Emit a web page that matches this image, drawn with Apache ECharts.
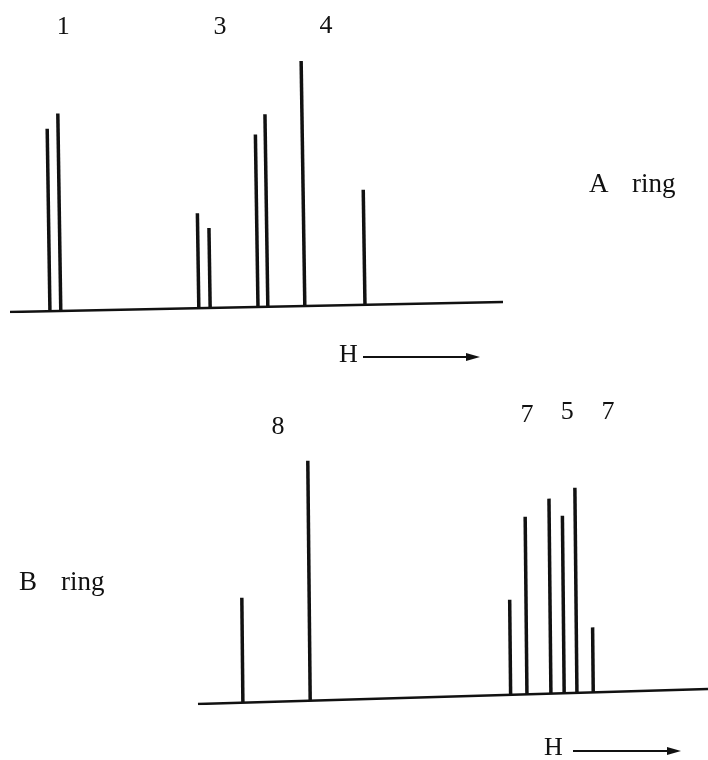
<!DOCTYPE html>
<html>
<head>
<meta charset="utf-8">
<script src="https://cdn.jsdelivr.net/npm/echarts@6/dist/echarts.min.js"></script>
<style>
  html, body { margin: 0; padding: 0; background: #fff; }
  #chart { width: 708px; height: 760px; }
</style>
</head>
<body>
<div id="chart"></div>
<script>
// A ring: stick positions (arbitrary shift units) and intensities
var ringAPos = [8.1, 10.3, 38.3, 40.6, 50.3, 52.3, 59.8, 72.0]
var ringAInt = [73, 79, 38, 32, 69, 77, 98, 46]
var ringALabels = ['1', '3', '4']
var ringALabelPos = [10.8, 42.6, 64.1]
var ringALabelY = [114, 114, 114.5]
// baseline of the scan is a little tilted: height at left and right end
var ringABase = [0, 4]

// B ring
var ringBPos = [8.8, 22.0, 61.3, 64.5, 69.2, 71.8, 74.3, 77.5]
var ringBInt = [42, 96, 38, 71, 78, 71, 82, 26]
var ringBLabels = ['8', '7', '5', '7']
var ringBLabelPos = [15.7, 64.5, 72.4, 80.4]
var ringBLabelY = [110.8, 115.6, 116.8, 116.8]
var ringBBase = [0, 6]

var serif = '"Liberation Serif", "DejaVu Serif", serif'
var ink = '#111'

function baseAt(base, x) {
  return base[0] + (base[1] - base[0]) * x / 100
}

// lean = how far the stick top drifts left per pixel of height (scan skew)
function stickRender(base, lean) {
  return function (params, api) {
    var x = api.value(0)
    var h = api.value(1)
    var p0 = api.coord([x, baseAt(base, x)])
    var hpx = api.size([0, h])[1]
    return {
      type: 'line',
      shape: { x1: p0[0], y1: p0[1], x2: p0[0] - hpx * lean, y2: p0[1] - hpx },
      style: { stroke: ink, lineWidth: 3.5 }
    }
  }
}

function textRender() {
  return function (params, api) {
    var p = api.coord([api.value(0), api.value(1)])
    return {
      type: 'text',
      x: p[0], y: p[1],
      style: {
        text: api.value(2),
        font: '26px ' + serif,
        fill: ink,
        align: 'center',
        verticalAlign: 'middle'
      }
    }
  }
}

function zip(a, b) {
  return a.map(function (v, i) { return [v, b[i]] })
}

var chart = echarts.init(document.getElementById('chart'))

chart.setOption({
  animation: false,
  backgroundColor: '#fff',
  grid: [
    { left: 10, width: 493, bottom: 448, height: 300 },
    { left: 198, width: 510, bottom: 56, height: 300 }
  ],
  xAxis: [
    { gridIndex: 0, type: 'value', min: 0, max: 100, show: false },
    { gridIndex: 1, type: 'value', min: 0, max: 100, show: false }
  ],
  yAxis: [
    { gridIndex: 0, type: 'value', min: 0, max: 120, show: false },
    { gridIndex: 1, type: 'value', min: 0, max: 120, show: false }
  ],
  series: [
    {
      type: 'line', xAxisIndex: 0, yAxisIndex: 0, symbol: 'none',
      lineStyle: { color: ink, width: 2.5 },
      data: [[0, ringABase[0]], [100, ringABase[1]]]
    },
    {
      type: 'custom', xAxisIndex: 0, yAxisIndex: 0,
      renderItem: stickRender(ringABase, 0.015),
      data: zip(ringAPos, ringAInt)
    },
    {
      type: 'custom', xAxisIndex: 0, yAxisIndex: 0,
      renderItem: textRender(),
      data: ringALabels.map(function (t, i) { return [ringALabelPos[i], ringALabelY[i], t] })
    },
    {
      type: 'line', xAxisIndex: 1, yAxisIndex: 1, symbol: 'none',
      lineStyle: { color: ink, width: 2.5 },
      data: [[0, ringBBase[0]], [100, ringBBase[1]]]
    },
    {
      type: 'custom', xAxisIndex: 1, yAxisIndex: 1,
      renderItem: stickRender(ringBBase, 0.01),
      data: zip(ringBPos, ringBInt)
    },
    {
      type: 'custom', xAxisIndex: 1, yAxisIndex: 1,
      renderItem: textRender(),
      data: ringBLabels.map(function (t, i) { return [ringBLabelPos[i], ringBLabelY[i], t] })
    }
  ],
  graphic: [
    { type: 'text', left: 589, top: 171, style: { text: 'A', font: '27px ' + serif, fill: ink } },
    { type: 'text', left: 632, top: 171, style: { text: 'ring', font: '27px ' + serif, fill: ink } },
    { type: 'text', left: 19, top: 569, style: { text: 'B', font: '27px ' + serif, fill: ink } },
    { type: 'text', left: 61, top: 569, style: { text: 'ring', font: '27px ' + serif, fill: ink } },
    { type: 'text', left: 339, top: 342, style: { text: 'H', font: '26px ' + serif, fill: ink } },
    { type: 'line', shape: { x1: 363, y1: 357, x2: 470, y2: 357 }, style: { stroke: ink, lineWidth: 2 } },
    { type: 'polygon', shape: { points: [[480, 357], [466, 353], [466, 361]] }, style: { fill: ink } },
    { type: 'text', left: 544, top: 735, style: { text: 'H', font: '26px ' + serif, fill: ink } },
    { type: 'line', shape: { x1: 573, y1: 751, x2: 670, y2: 751 }, style: { stroke: ink, lineWidth: 2 } },
    { type: 'polygon', shape: { points: [[681, 751], [667, 747], [667, 755]] }, style: { fill: ink } }
  ]
})
</script>
</body>
</html>
